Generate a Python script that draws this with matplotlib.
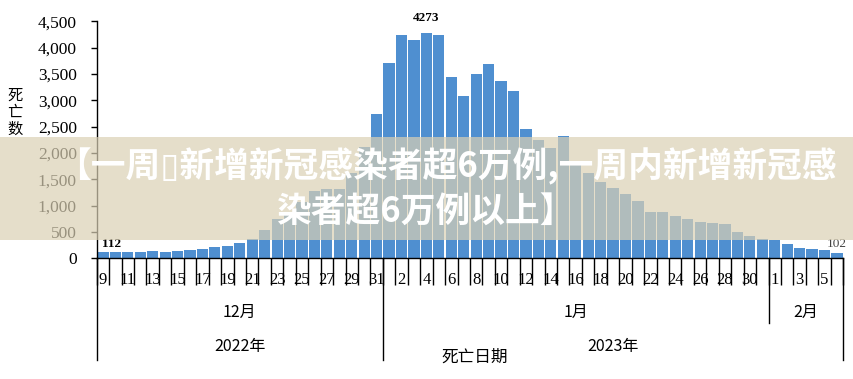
import matplotlib
matplotlib.use("Agg")
import matplotlib.pyplot as plt
import matplotlib.transforms as mtransforms
from matplotlib.patches import Rectangle

plt.rcParams['font.family'] = ['Liberation Serif', 'Noto Sans CJK SC', 'DejaVu Sans']

# ---- data ----
dec_days = list(range(9, 32))
jan_days = list(range(1, 32))
feb_days = list(range(1, 7))
dec_deaths = [112, 126, 114, 114, 145, 120, 139, 158, 177, 215, 234, 291, 367, 538,
              747, 874, 1075, 1279, 1311, 1320, 1615, 2109, 2742]
jan_deaths = [3717, 4243, 4148, 4273, 4250, 3445, 3084, 3502, 3692, 3369, 3185, 2460,
              2250, 2090, 2324, 1850, 1615, 1456, 1341, 1216, 1089, 874, 886, 810,
              747, 696, 677, 652, 506, 424, 367]
feb_deaths = [348, 266, 196, 177, 158, 102]
months = ["12月", "1月", "2月"]
years = ["2022年", "2023年"]
yticks = [0, 500, 1000, 1500, 2000, 2500, 3000, 3500, 4000, 4500]
title_line1 = "【一周▯新增新冠感染者超6万例,一周内新增新冠感"
title_line2 = "染者超6万例以上】"
xlabel = "死亡日期"
ylabel = "死\n亡\n数"

days = dec_days + jan_days + feb_days
deaths = dec_deaths + jan_deaths + feb_deaths
n = len(days)
x = list(range(n))

W, H = 854, 379
fig = plt.figure(figsize=(W / 100, H / 100), dpi=100)
left, right, bottom, top = 96.7, 843.2, 258.3, 21.5
ax = fig.add_axes([left / W, 1 - bottom / H, (right - left) / W, (bottom - top) / H])

ax.bar(x, deaths, width=0.9, color='#4f8fd0', edgecolor='none', zorder=2)
ax.set_xlim(-0.5, n - 0.5)
ax.set_ylim(0, 4500)

for s in ['top', 'right']:
    ax.spines[s].set_visible(False)
ax.spines['left'].set_linewidth(1.0)
ax.spines['bottom'].set_linewidth(1.0)

ax.set_yticks(yticks)
ax.set_yticklabels([f"{v:,}" for v in yticks], fontsize=12.5, fontfamily='Liberation Serif')
ax.tick_params(axis='y', direction='out', length=4.3, width=1.0, pad=10)

# x: boundary ticks (minor) and labels every other day (major, no tick mark)
ax.set_xticks([i - 0.5 for i in range(n + 1)], minor=True)
ax.tick_params(axis='x', which='minor', direction='out', length=19.5, width=1.0)
major = [i for i in range(n) if i % 2 == 0]
ax.set_xticks(major)
ax.set_xticklabels([str(days[i]) for i in major], fontsize=12, fontfamily='Liberation Serif')
ax.tick_params(axis='x', which='major', length=0, pad=10)

trans = mtransforms.blended_transform_factory(ax.transData, ax.transAxes)
ax_h = bottom - top
def ay(py):
    return (bottom - py) / ax_h

nd, nj, nf = len(dec_days), len(jan_days), len(feb_days)
b0, b1, b2, b3 = -0.5, nd - 0.5, nd + nj - 0.5, n - 0.5
for bx, yend in [(b0, 360), (b1, 360), (b2, 323), (b3, 360)]:
    ax.plot([bx, bx], [0, ay(yend)], transform=trans, color='black', lw=1.0, clip_on=False)

cjk = ['Noto Sans CJK SC', 'DejaVu Sans']
for lbl, cx in zip(months, [(b0 + b1) / 2, (b1 + b2) / 2, (b2 + b3) / 2]):
    ax.text(cx, ay(312), lbl, transform=trans, ha='center', va='center', fontsize=11.5, family=cjk)
for lbl, cx in zip(years, [(b0 + b1) / 2, (b1 + b3) / 2]):
    ax.text(cx, ay(346), lbl, transform=trans, ha='center', va='center', fontsize=11.5, family=cjk)

fig.text(475 / W, 1 - 357 / H, xlabel, ha='center', va='center', fontsize=12, family=cjk)
fig.text(15 / W, 1 - 112 / H, ylabel, ha='center', va='center', fontsize=11, family=cjk,
         linespacing=1.0)

# value annotations
ax.text(x[0] - 0.1, deaths[0] + 55, f"{deaths[0]}", ha='left', va='bottom', fontsize=9.5,
        fontweight='bold', fontfamily='Liberation Serif')
imax = deaths.index(max(deaths))
ax.text(x[imax], deaths[imax] + 170, f"{deaths[imax]}", ha='center', va='bottom', fontsize=9.5,
        fontweight='bold', fontfamily='Liberation Serif')
ax.text(x[-1], deaths[-1] + 55, f"{deaths[-1]}", ha='center', va='bottom', fontsize=9.5,
        color='#444444', fontfamily='Liberation Serif')

# overlay banner
band = Rectangle((0, 1 - 240 / H), 1, (240 - 137) / H, transform=fig.transFigure,
                 facecolor=(218 / 255, 208 / 255, 180 / 255), alpha=0.7, edgecolor='none', zorder=5)
fig.add_artist(band)
fig.text(446 / W, 1 - 166 / H, title_line1, ha='center', va='center', fontsize=25,
         fontweight='bold', color='white', family=cjk, zorder=6)
fig.text(425 / W, 1 - 211 / H, title_line2, ha='center', va='center', fontsize=25,
         fontweight='bold', color='white', family=cjk, zorder=6)

fig.savefig("out.png", dpi=100)
